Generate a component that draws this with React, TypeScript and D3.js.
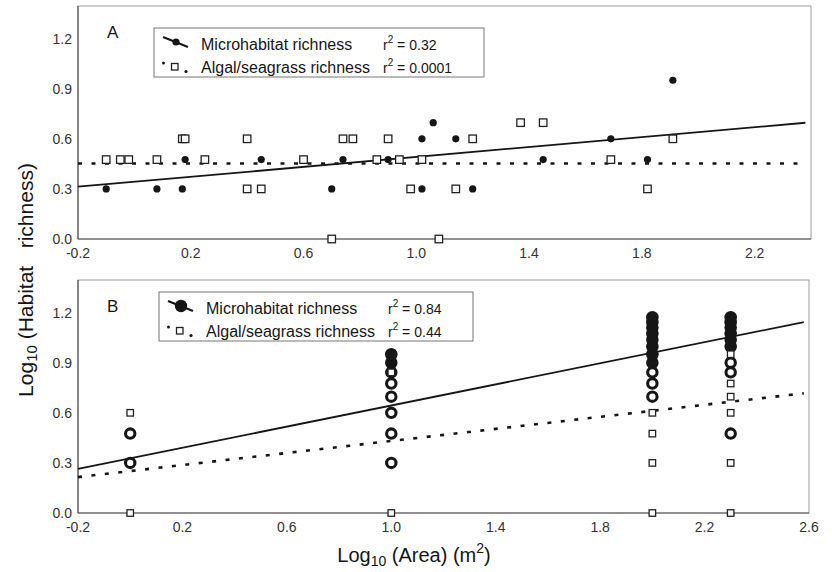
import React, { useEffect } from "react";
import * as d3 from "d3";

// ---------- Data ----------
// Panel A: microhabitat richness (filled circles)
const aMicroX = [-0.1, 0.08, 0.17, 0.18, 0.45, 0.7, 0.74, 0.9, 1.02, 1.02, 1.06, 1.14, 1.2, 1.45, 1.69, 1.82, 1.91];
const aMicroY = [0.301, 0.301, 0.301, 0.477, 0.477, 0.301, 0.477, 0.477, 0.602, 0.301, 0.699, 0.602, 0.301, 0.477, 0.602, 0.477, 0.954];
// Panel A: algal/seagrass richness (open squares)
const aAlgalX = [-0.1, -0.05, -0.02, 0.08, 0.17, 0.18, 0.25, 0.4, 0.4, 0.45, 0.6, 0.7, 0.74, 0.775, 0.86, 0.9, 0.94, 0.98, 1.02, 1.08, 1.14, 1.2, 1.37, 1.45, 1.69, 1.82, 1.91];
const aAlgalY = [0.477, 0.477, 0.477, 0.477, 0.602, 0.602, 0.477, 0.602, 0.301, 0.301, 0.477, 0, 0.602, 0.602, 0.477, 0.602, 0.477, 0.301, 0.477, 0, 0.301, 0.602, 0.699, 0.699, 0.477, 0.301, 0.602];
// Panel B: microhabitat richness (circles)
const bMicroX = [0, 0, 1, 1, 1, 1, 1, 1, 1, 1, 2, 2, 2, 2, 2, 2, 2, 2, 2, 2, 2, 2.3, 2.3, 2.3, 2.3, 2.3, 2.3, 2.3, 2.3, 2.3];
const bMicroY = [0.301, 0.477, 0.301, 0.477, 0.602, 0.699, 0.778, 0.845, 0.903, 0.954, 0.699, 0.778, 0.845, 0.903, 0.954, 1.0, 1.041, 1.079, 1.114, 1.146, 1.176, 0.477, 0.845, 0.903, 1.0, 1.041, 1.079, 1.114, 1.146, 1.176];
// Panel B: algal/seagrass richness (open squares)
const bAlgalX = [0, 0, 1, 1, 2, 2, 2, 2, 2.3, 2.3, 2.3, 2.3, 2.3, 2.3];
const bAlgalY = [0.602, 0, 0.845, 0, 0.602, 0.477, 0.301, 0, 0.954, 0.778, 0.699, 0.602, 0.301, 0];

// Regression fits [intercept, slope] and fitted x-range
const aMicroFit = [0.344, 0.149];
const aAlgalFit = [0.454, 0];
const aFitRange = [-0.2, 2.38];
const bMicroFit = [0.329, 0.317];
const bAlgalFit = [0.252, 0.181];
const bFitRange = [-0.2, 2.58];

const legendNames = ["Microhabitat richness", "Algal/seagrass richness"];
const aR2 = ["0.32", "0.0001"];
const bR2 = ["0.84", "0.44"];

const aXTicks = [-0.2, 0.2, 0.6, 1.0, 1.4, 1.8, 2.2];
const bXTicks = [-0.2, 0.2, 0.6, 1.0, 1.4, 1.8, 2.2, 2.6];
const yTicks = [0.0, 0.3, 0.6, 0.9, 1.2];

const FONT = "'Liberation Sans', Arial, Helvetica, sans-serif";
const INK = "#161616";

function Frame({ x, y, xTicks, label }: any) {
  const [x0, x1] = x.range();
  const [y0, y1] = y.range();
  return (
    <g>
      <rect x={x0} y={y1} width={x1 - x0} height={y0 - y1} fill="none" stroke="#9a9a9a" strokeWidth={1} />
      <line x1={x0} x2={x0} y1={y1} y2={y0} stroke="#555" strokeWidth={1.2} />
      <line x1={x0} x2={x1} y1={y0} y2={y0} stroke="#555" strokeWidth={1.2} />
      {yTicks.map((t) => (
        <text key={"y" + t} x={x0 - 6} y={y(t) + 5} textAnchor="end" fontSize={14} fill="#333" fontFamily={FONT}>
          {t.toFixed(1)}
        </text>
      ))}
      {xTicks.map((t: number) => (
        <text key={"x" + t} x={x(t)} y={y0 + 19} textAnchor="middle" fontSize={14} fill="#333" fontFamily={FONT}>
          {t.toFixed(1)}
        </text>
      ))}
      <text x={x0 + 29} y={y1 + 32} fontSize={17} fill={INK} fontFamily={FONT}>
        {label}
      </text>
    </g>
  );
}

function FitLine({ x, y, fit, range, dotted }: any) {
  const line = d3
    .line<number>()
    .x((d) => x(d))
    .y((d) => y(fit[0] + fit[1] * d));
  return (
    <path
      d={line(range) || ""}
      fill="none"
      stroke={INK}
      strokeWidth={dotted ? 2.6 : 1.8}
      strokeDasharray={dotted ? "4,9.5" : undefined}
    />
  );
}

function Squares({ x, y, xs, ys, size }: any) {
  return (
    <g>
      {xs.map((v: number, i: number) => (
        <rect
          key={i}
          x={x(v) - size / 2}
          y={y(ys[i]) - size / 2}
          width={size}
          height={size}
          fill="#fff"
          stroke="#222"
          strokeWidth={1.3}
        />
      ))}
    </g>
  );
}

function Legend({ box, r2, big }: any) {
  const [lx, ly, lw, lh] = box;
  const row1 = ly + 17;
  const row2 = ly + 40;
  const tx = lx + 47;
  const rx = lx + 229;
  return (
    <g fontFamily={FONT} fill={INK}>
      <rect x={lx} y={ly} width={lw} height={lh} fill="#fff" stroke="#777" strokeWidth={1} />
      <line x1={lx + 9} y1={row1 - 8} x2={lx + 34} y2={row1 + 2} stroke={INK} strokeWidth={2} />
      <circle cx={lx + 22} cy={row1 - 3} r={big ? 6.2 : 3.6} fill={INK} />
      <circle cx={lx + 9.5} cy={row2 - 5} r={1.5} fill={INK} />
      <rect x={lx + 17.5} y={row2 - 4.5} width={6.5} height={6.5} fill="#fff" stroke="#222" strokeWidth={1.3} />
      <circle cx={lx + 32} cy={row2 + 3.5} r={1.6} fill={INK} />
      <text x={tx} y={row1 + 5} fontSize={16}>{legendNames[0]}</text>
      <text x={tx} y={row2 + 5} fontSize={16}>{legendNames[1]}</text>
      <text x={rx} y={row1 + 5} fontSize={14}>
        r<tspan dy={-7} fontSize={10}>2</tspan>
        <tspan dy={7}> = {r2[0]}</tspan>
      </text>
      <text x={rx} y={row2 + 5} fontSize={14}>
        r<tspan dy={-7} fontSize={10}>2</tspan>
        <tspan dy={7}> = {r2[1]}</tspan>
      </text>
    </g>
  );
}

export default function App() {
  useEffect(() => {
    document.body.style.margin = "0";
  }, []);

  const xA = d3.scaleLinear().domain([-0.2, 2.4]).range([78, 811]);
  const yA = d3.scaleLinear().domain([0, 1.4]).range([239, 6]);
  const xB = d3.scaleLinear().domain([-0.2, 2.6]).range([78, 809]);
  const yB = d3.scaleLinear().domain([0, 1.4]).range([513, 280]);

  // a circle is drawn solid where it is crowded by a neighbour in the same column
  const crowded = (i: number) =>
    bMicroX.some((v, j) => j !== i && v === bMicroX[i] && Math.abs(bMicroY[j] - bMicroY[i]) < 0.055);

  return (
    <svg width={832} height={572} style={{ display: "block", background: "#fff" }}>
      {/* Panel A */}
      <Frame x={xA} y={yA} xTicks={aXTicks} label="A" />
      <FitLine x={xA} y={yA} fit={aAlgalFit} range={aFitRange} dotted />
      <FitLine x={xA} y={yA} fit={aMicroFit} range={aFitRange} />
      <Squares x={xA} y={yA} xs={aAlgalX} ys={aAlgalY} size={7.5} />
      {aMicroX.map((v, i) => (
        <circle key={"am" + i} cx={xA(v)} cy={yA(aMicroY[i])} r={3.6} fill={INK} />
      ))}
      <Legend box={[154, 28, 330, 49]} r2={aR2} big={false} />

      {/* Panel B */}
      <Frame x={xB} y={yB} xTicks={bXTicks} label="B" />
      <FitLine x={xB} y={yB} fit={bAlgalFit} range={bFitRange} dotted />
      <FitLine x={xB} y={yB} fit={bMicroFit} range={bFitRange} />
      {bMicroX.map((v, i) =>
        crowded(i) ? (
          <circle key={"bm" + i} cx={xB(v)} cy={yB(bMicroY[i])} r={6.3} fill={INK} />
        ) : (
          <circle key={"bm" + i} cx={xB(v)} cy={yB(bMicroY[i])} r={4.7} fill="#fff" stroke={INK} strokeWidth={3.1} />
        )
      )}
      <Squares x={xB} y={yB} xs={bAlgalX} ys={bAlgalY} size={6.5} />
      <Legend box={[159, 292, 314, 49]} r2={bR2} big={true} />

      {/* Axis titles */}
      <text x={414} y={562} textAnchor="middle" fontSize={20} fill={INK} fontFamily={FONT}>
        Log<tspan fontSize={14} dy={4}>10</tspan>
        <tspan dy={-4}> (Area) (m</tspan>
        <tspan fontSize={14} dy={-9}>2</tspan>
        <tspan dy={9}>)</tspan>
      </text>
      <text
        transform="translate(33,280) rotate(-90)"
        textAnchor="middle"
        fontSize={21}
        fill={INK}
        fontFamily={FONT}
        style={{ whiteSpace: "pre" }}
      >
        Log<tspan fontSize={15} dy={4}>10</tspan>
        <tspan dy={-4}>{" (Habitat   richness)"}</tspan>
      </text>
    </svg>
  );
}
